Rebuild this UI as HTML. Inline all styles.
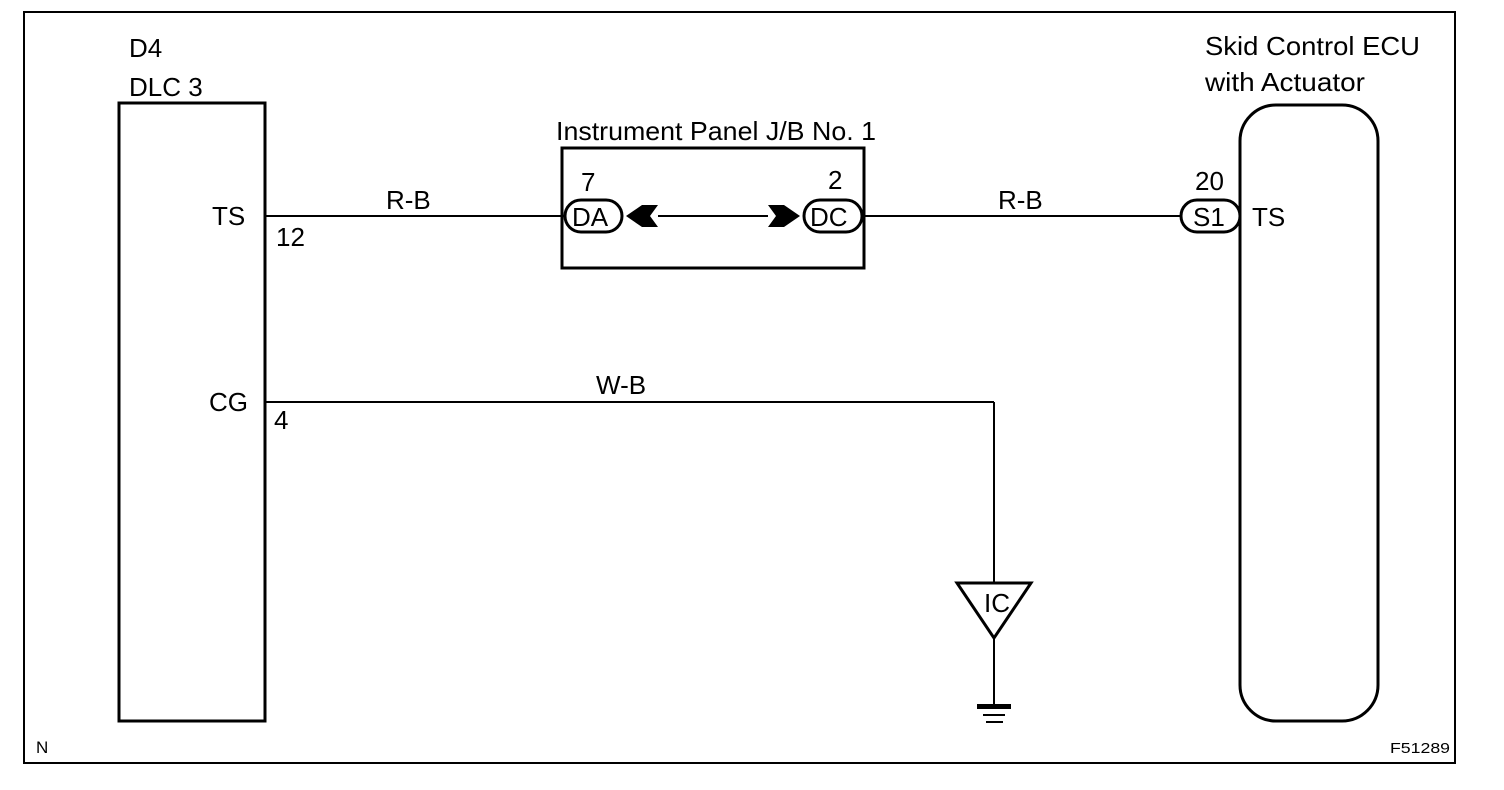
<!DOCTYPE html>
<html><head><style>body{margin:0;background:#fff}svg{display:block}text{font-family:"Liberation Sans",Arial,sans-serif;fill:#000}</style></head><body>
<svg width="1504" height="790" viewBox="0 0 1504 790" xmlns="http://www.w3.org/2000/svg">
<rect x="24" y="12" width="1431" height="751" fill="none" stroke="#000" stroke-width="2"/>
<g font-size="26">
<text x="129" y="57">D4</text>
<text x="129" y="96">DLC 3</text>
<text x="1205" y="55" textLength="215" lengthAdjust="spacingAndGlyphs">Skid Control ECU</text>
<text x="1205" y="91" textLength="160" lengthAdjust="spacingAndGlyphs">with Actuator</text>
<text x="556" y="140" textLength="320" lengthAdjust="spacingAndGlyphs">Instrument Panel J/B No. 1</text>
<text x="212" y="225">TS</text>
<text x="276" y="246">12</text>
<text x="209" y="411">CG</text>
<text x="274" y="429">4</text>
<text x="386" y="209">R-B</text>
<text x="998" y="209">R-B</text>
<text x="596" y="394">W-B</text>
<text x="581" y="191">7</text>
<text x="828" y="189">2</text>
<text x="1195" y="190">20</text>
<text x="1252" y="226">TS</text>
</g>
<g fill="none" stroke="#000" stroke-width="3">
<rect x="119" y="103" width="146" height="618"/>
<rect x="562" y="148" width="302" height="120"/>
<rect x="1240" y="105" width="138" height="616" rx="36"/>
</g>
<g stroke="#000" stroke-width="2" fill="none">
<line x1="265" y1="216" x2="565" y2="216"/>
<line x1="658" y1="216" x2="768" y2="216"/>
<line x1="862" y1="216" x2="1181" y2="216"/>
<line x1="265" y1="402" x2="994" y2="402"/>
<line x1="994" y1="402" x2="994" y2="583"/>
<line x1="994" y1="638" x2="994" y2="707"/>
<rect x="565" y="200" width="57" height="32" rx="16" stroke-width="3"/>
<rect x="804" y="200" width="58" height="32" rx="16" stroke-width="3"/>
<rect x="1181" y="200" width="59" height="32" rx="16" stroke-width="3"/>
<polygon points="957,583 1031,583 994,638" stroke-width="3"/>
</g>
<polygon points="626,216 642,205 658,205 650,216 658,227 642,227" fill="#000"/>
<polygon points="800,216 784,205 768,205 776,216 768,227 784,227" fill="#000"/>
<rect x="977" y="704" width="34" height="5" fill="#000"/>
<rect x="983" y="714" width="22" height="2" fill="#000"/>
<rect x="986" y="721" width="17" height="2" fill="#000"/>
<g font-size="26">
<text x="572" y="226">DA</text>
<text x="810" y="226">DC</text>
<text x="1193" y="226">S1</text>
<text x="984" y="612">IC</text>
</g>
<text x="36" y="753" font-size="17">N</text>
<text x="1390" y="753" font-size="15" textLength="60" lengthAdjust="spacingAndGlyphs">F51289</text>
</svg>
</body></html>
